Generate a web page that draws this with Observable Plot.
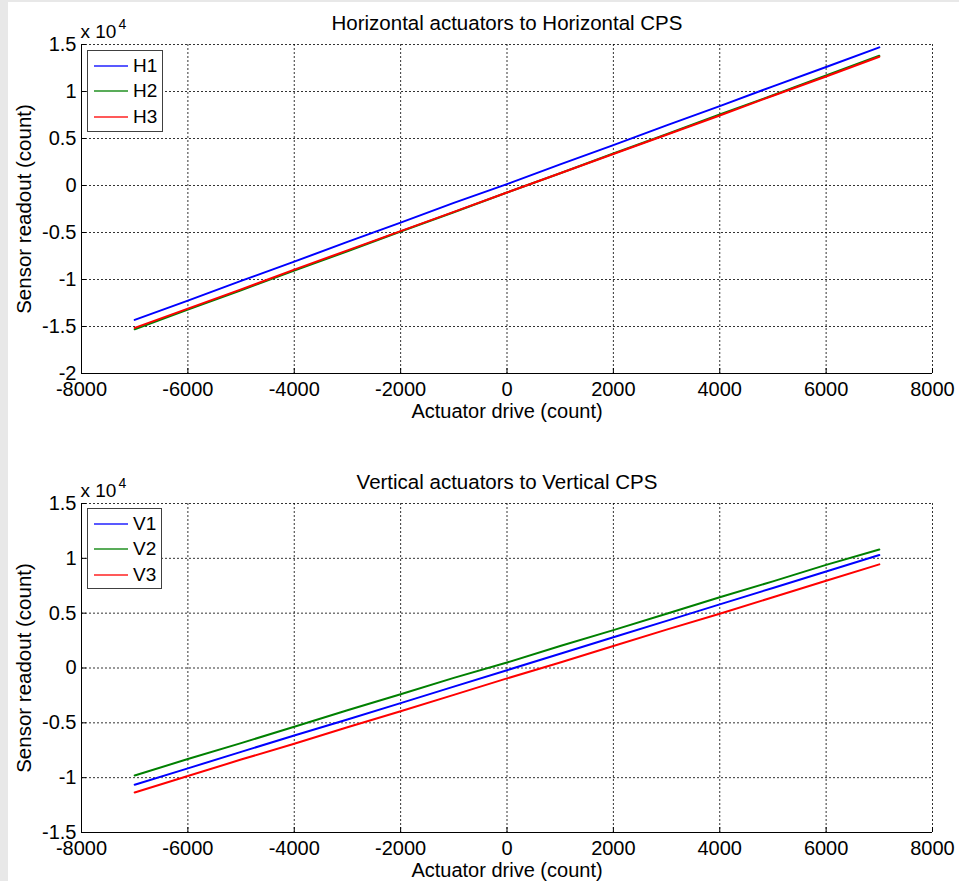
<!DOCTYPE html>
<html>
<head>
<meta charset="utf-8">
<script src="https://cdn.jsdelivr.net/npm/d3@7"></script>
<script src="https://cdn.jsdelivr.net/npm/@observablehq/plot@0.6"></script>
<style>
  body { margin: 0; background: #fff; }
  #fig { position: relative; width: 959px; height: 881px; background: #fff; overflow: hidden;
         font-family: "Liberation Sans", Arial, Helvetica, sans-serif; }
  #fig svg { position: absolute; left: 0; }
  .strip-left { position: absolute; left: 0; top: 0; width: 8px; height: 881px; background: #e8e8e8; z-index: 5; }
  .strip-top { position: absolute; left: 0; top: 0; width: 959px; height: 2px; background: #e8e8e8; z-index: 5; }
  .legend { position: absolute; border: 1px solid #404040; background: #fff; box-sizing: border-box; z-index: 4; }
  .legend .row { position: absolute; left: 0; height: 0; }
  .legend .sw { position: absolute; left: 6px; top: -1px; width: 34px; height: 2px; opacity: 0.65; }
  .legend .lab { position: absolute; left: 45px; top: -11px; font-size: 19px; line-height: 22px; color: #000; white-space: nowrap; }
</style>
</head>
<body>
<div id="fig">
  <div class="strip-left"></div>
  <div class="strip-top"></div>
</div>
<script>
// ---- data (counts) ----
const drive = [-7000, -6000, -5000, -4000, -3000, -2000, -1000, 0, 1000, 2000, 3000, 4000, 5000, 6000, 7000];

const H1 = [-14300, -12250, -10150, -8100, -6000, -3950, -1850, 150, 2250, 4300, 6400, 8450, 10550, 12600, 14700];
const H2 = [-15300, -13200, -11150, -9050, -7000, -4900, -2850, -750, 1300, 3400, 5450, 7550, 9600, 11700, 13800];
const H3 = [-15150, -13100, -11050, -8950, -6900, -4850, -2800, -750, 1300, 3350, 5400, 7450, 9550, 11600, 13700];

const V1 = [-10650, -9150, -7650, -6150, -4700, -3200, -1700, -200, 1300, 2800, 4300, 5800, 7300, 8800, 10300];
const V2 = [-9800, -8300, -6850, -5350, -3850, -2400, -900, 500, 2000, 3450, 4950, 6450, 7900, 9400, 10800];
const V3 = [-11350, -9850, -8350, -6900, -5400, -3950, -2450, -950, 500, 2000, 3500, 4950, 6450, 7950, 9450];

const xTicks = [-8000, -6000, -4000, -2000, 0, 2000, 4000, 6000, 8000];
const yTicksTop = [-20000, -15000, -10000, -5000, 0, 5000, 10000, 15000];
const yTicksBottom = [-15000, -10000, -5000, 0, 5000, 10000, 15000];

const topSeries = [
  {name: "H1", color: "#0000ff", values: H1},
  {name: "H2", color: "#008000", values: H2},
  {name: "H3", color: "#ff0000", values: H3}
];
const bottomSeries = [
  {name: "V1", color: "#0000ff", values: V1},
  {name: "V2", color: "#008000", values: V2},
  {name: "V3", color: "#ff0000", values: V3}
];

const FONT = "'Liberation Sans', Arial, Helvetica, sans-serif";
const fmtY = d => String(+(d / 1e4).toFixed(1));
const fmtX = d => String(d);

function panel({title, series, yDomain, yTicks, height, marginTop, marginBottom}) {
  const rows = series.flatMap(s => drive.map((x, i) => ({x, y: s.values[i], name: s.name, color: s.color})));
  const grid = {stroke: "#000", strokeOpacity: 0.8, strokeDasharray: "2,2", strokeWidth: 1};
  return Plot.plot({
    width: 959, height,
    marginLeft: 81, marginRight: 27, marginTop, marginBottom,
    x: {domain: [-8000, 8000]},
    y: {domain: yDomain},
    style: {fontFamily: FONT, fontSize: "20px", color: "#000", background: "transparent", overflow: "visible"},
    marks: [
      Plot.gridX(xTicks, grid),
      Plot.gridY(yTicks, grid),
      Plot.line(rows, {x: "x", y: "y", z: "name", stroke: "color", strokeWidth: 2}),
      Plot.ruleX([-8000], {stroke: "#000", strokeWidth: 1}),
      Plot.ruleY([yDomain[0]], {stroke: "#000", strokeWidth: 1}),
      Plot.axisX(xTicks, {tickSize: -5, tickFormat: () => "", label: null, stroke: "#000"}),
      Plot.axisY(yTicks, {tickSize: -5, tickFormat: () => "", label: null, stroke: "#000"}),
      Plot.axisX(xTicks, {tickSize: 0, tickPadding: 8, tickFormat: fmtX, label: null, fontSize: 20}),
      Plot.axisY(yTicks, {tickSize: 0, tickPadding: 5, tickFormat: fmtY, label: null, fontSize: 20}),
      Plot.text([title], {frameAnchor: "top", lineAnchor: "bottom", dy: -15, fontSize: 20.5}),
      Plot.text(["Actuator drive (count)"], {frameAnchor: "bottom", lineAnchor: "bottom", dy: 44, fontSize: 20}),
      Plot.text(["Sensor readout (count)"], {frameAnchor: "left", rotate: -90, lineAnchor: "middle", textAnchor: "middle", dx: -57, dy: 0, fontSize: 20.5}),
      Plot.text(["x 10"], {frameAnchor: "top-left", textAnchor: "start", lineAnchor: "bottom", dx: -1, dy: -7, fontSize: 19}),
      Plot.text(["4"], {frameAnchor: "top-left", textAnchor: "start", lineAnchor: "bottom", dx: 37, dy: -16, fontSize: 14})
    ]
  });
}

const fig = document.getElementById("fig");

const topPlot = panel({title: "Horizontal actuators to Horizontal CPS", series: topSeries,
  yDomain: [-20000, 15000], yTicks: yTicksTop, height: 440, marginTop: 44, marginBottom: 67});
topPlot.style.top = "0px";
fig.appendChild(topPlot);

const bottomPlot = panel({title: "Vertical actuators to Vertical CPS", series: bottomSeries,
  yDomain: [-15000, 15000], yTicks: yTicksBottom, height: 441, marginTop: 63, marginBottom: 49});
bottomPlot.style.top = "440px";
fig.appendChild(bottomPlot);

function legend(series, left, topPx, w, h, rowYs) {
  const box = document.createElement("div");
  box.className = "legend";
  Object.assign(box.style, {left: left + "px", top: topPx + "px", width: w + "px", height: h + "px"});
  series.forEach((s, i) => {
    const row = document.createElement("div");
    row.className = "row";
    row.style.top = rowYs[i] + "px";
    const sw = document.createElement("div");
    sw.className = "sw";
    sw.style.backgroundColor = s.color;
    const lab = document.createElement("div");
    lab.className = "lab";
    lab.textContent = s.name;
    row.appendChild(sw); row.appendChild(lab);
    box.appendChild(row);
  });
  fig.appendChild(box);
}
legend(topSeries, 87, 50, 76, 82, [15, 40, 66]);
legend(bottomSeries, 87, 508, 75, 81, [15, 40, 66]);
</script>
</body>
</html>
